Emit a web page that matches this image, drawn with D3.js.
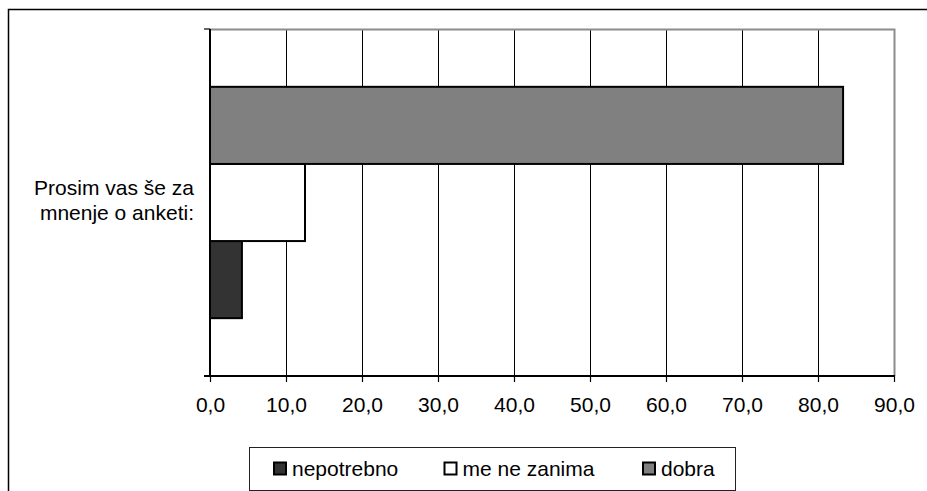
<!DOCTYPE html>
<html><head><meta charset="utf-8">
<script src="https://cdn.jsdelivr.net/npm/d3@7"></script>
<style>body{margin:0;background:#fff}svg{display:block}text{font-family:"Liberation Sans",Arial,sans-serif;fill:#000}</style>
</head><body>
<svg id="c" width="927" height="491"></svg>
<script>
const categories = ["Prosim vas še za mnenje o anketi:"];
const categoryLines = ["Prosim vas še za", "mnenje o anketi:"];
const seriesNames = ["nepotrebno", "me ne zanima", "dobra"];
const seriesValues = [4.2, 12.5, 83.3];
const seriesColors = ["#333333", "#ffffff", "#808080"];
const xTicks = [0,10,20,30,40,50,60,70,80,90];

const svg = d3.select("#c");
const L = 210, R = 894, T = 29, B = 376;
const fs = 21;

// outer chart border
svg.append("rect").attr("x",8.5).attr("y",9.5).attr("width",1000).attr("height",1000)
  .attr("fill","#fff").attr("stroke","#000").attr("stroke-width",1.5);

const x = d3.scaleLinear().domain([0,90]).range([L,R]);
const yCat = d3.scaleBand().domain(categories).range([T,B]);
const order = seriesNames.slice().reverse();
const ySer = d3.scaleBand().domain(order).range([yCat(categories[0]), yCat(categories[0])+yCat.bandwidth()]).paddingInner(0).paddingOuter(0.75);

// gridlines
svg.append("g").selectAll("line").data(xTicks.slice(1, -1)).join("line")
  .attr("x1",d=>Math.round(x(d))+0.5).attr("x2",d=>Math.round(x(d))+0.5)
  .attr("y1",T).attr("y2",B).attr("stroke","#000").attr("stroke-width",1);

// plot area top/right border (gray)
svg.append("path").attr("d",`M${L},${T+0.5}H${R+0.5}V${B}`).attr("fill","none")
  .attr("stroke","#8c8c8c").attr("stroke-width",2);

// bars
const data = seriesNames.map((s,i)=>({s, v:seriesValues[i], c:seriesColors[i]}));
svg.append("g").selectAll("rect").data(data).join("rect")
  .attr("x",x(0)).attr("y",d=>ySer(d.s))
  .attr("width",d=>x(d.v)-x(0)).attr("height",ySer.bandwidth())
  .attr("fill",d=>d.c).attr("stroke","#000").attr("stroke-width",2);

// x axis
const xAxis = d3.axisBottom(x).tickValues(xTicks).tickSize(6).tickPadding(15)
  .tickFormat(d=>d3.format(".1f")(d).replace(".",","));
const gx = svg.append("g").attr("transform",`translate(0,${B})`).call(xAxis);
gx.select(".domain").attr("stroke","#000").attr("stroke-width",2).attr("d",`M${L-6},0H${R+1}`);
gx.selectAll(".tick line").attr("stroke","#000").attr("stroke-width",1.2);
gx.selectAll("text").style("font-size",fs+"px").attr("font-family","Liberation Sans, Arial, sans-serif").attr("fill","#000");

// y axis
const gy = svg.append("g");
gy.append("line").attr("x1",L).attr("x2",L).attr("y1",T).attr("y2",B).attr("stroke","#000").attr("stroke-width",2);
gy.selectAll("line.t").data([T,B]).join("line").attr("class","t")
  .attr("x1",L-6).attr("x2",L).attr("y1",d=>d).attr("y2",d=>d).attr("stroke","#000").attr("stroke-width",1.2);
const lbl = svg.append("text").attr("text-anchor","end").style("font-size",fs+"px");
lbl.selectAll("tspan").data(categoryLines).join("tspan")
  .attr("x",194).attr("y",(d,i)=>195+i*25).text(d=>d);

// legend
svg.append("rect").attr("x",249.5).attr("y",447.5).attr("width",486).attr("height",43)
  .attr("fill","#fff").attr("stroke","#222").attr("stroke-width",1);
const lx = [274, 444.5, 643];
const lg = svg.append("g").selectAll("g").data(data).join("g")
  .attr("transform",(d,i)=>`translate(${lx[i]},0)`);
lg.append("rect").attr("x",0).attr("y",462.5).attr("width",12).attr("height",12)
  .attr("fill",d=>d.c).attr("stroke","#000").attr("stroke-width",2);
lg.append("text").attr("x",18).attr("y",475.5).style("font-size",fs+"px").text(d=>d.s);
</script>
</body></html>
